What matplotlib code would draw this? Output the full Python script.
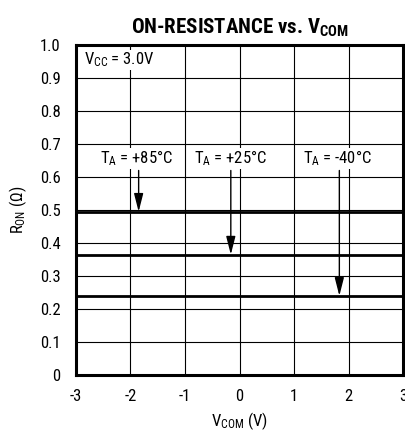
"""
ON-RESISTANCE vs. VCOM 圖表
"""
import matplotlib
matplotlib.use("Agg")
import matplotlib.pyplot as plt

plt.rcParams['font.family'] = ['Roboto Condensed', 'DejaVu Sans']
plt.rcParams['mathtext.fontset'] = 'custom'
plt.rcParams['mathtext.rm'] = 'Roboto Condensed'
plt.rcParams['mathtext.it'] = 'Roboto Condensed'
plt.rcParams['mathtext.bf'] = 'Roboto Condensed:bold'
plt.rcParams['axes.unicode_minus'] = False

# 資料
vcom = [-3, -2, -1, 0, 1, 2, 3]
ron_85 = [0.495, 0.495, 0.495, 0.495, 0.495, 0.495, 0.495]
ron_25 = [0.365, 0.365, 0.365, 0.365, 0.365, 0.365, 0.365]
ron_m40 = [0.240, 0.240, 0.240, 0.240, 0.240, 0.240, 0.240]

x_ticks = [-3, -2, -1, 0, 1, 2, 3]
y_ticks = [0, 0.1, 0.2, 0.3, 0.4, 0.5, 0.6, 0.7, 0.8, 0.9, 1.0]
y_tick_labels = ["0", "0.1", "0.2", "0.3", "0.4", "0.5", "0.6", "0.7", "0.8", "0.9", "1.0"]

# 標註: (文字, 文字 x, 箭頭 x, 箭頭終點 y)
labels = [
    (r"T$_\mathregular{A}$ = +85°C", -2.55, -1.85, 0.495),
    (r"T$_\mathregular{A}$ = +25°C", -0.84, -0.16, 0.365),
    (r"T$_\mathregular{A}$ = -40°C", 1.16, 1.83, 0.240),
]

fig = plt.figure(figsize=(4.06, 4.34), dpi=100)
ax = fig.add_axes([0.187, 0.136, 0.806, 0.760])

for series in (ron_85, ron_25, ron_m40):
    ax.plot(vcom, series, color="black", linewidth=2.0, zorder=3)

ax.set_xlim(-3, 3)
ax.set_ylim(0, 1.0)
ax.set_xticks(x_ticks)
ax.set_yticks(y_ticks)
ax.set_yticklabels(y_tick_labels)
ax.grid(True, color="black", linewidth=0.8)
ax.tick_params(axis="both", length=0, labelsize=12)
ax.tick_params(axis="x", pad=10)
ax.tick_params(axis="y", pad=11)
for sp in ax.spines.values():
    sp.set_linewidth(2.2)

ax.text(-2.85, 0.955, r"V$_\mathregular{CC}$ = 3.0V", fontsize=12,
        va="center", ha="left",
        bbox=dict(facecolor="white", edgecolor="none", pad=0.5))

for text, tx, ax_x, tip in labels:
    ax.text(tx, 0.657, text, fontsize=12, va="center", ha="left",
            bbox=dict(facecolor="white", edgecolor="none", pad=0.5), zorder=4)
    ax.annotate("", xy=(ax_x, tip), xytext=(ax_x, 0.62),
                arrowprops=dict(arrowstyle="-|>,head_length=1.1,head_width=0.28",
                                color="black", linewidth=1.0,
                                shrinkA=0, shrinkB=0), zorder=4)

ax.set_xlabel(r"V$_\mathregular{COM}$ (V)", fontsize=12, labelpad=5)
ax.set_ylabel(r"R$_\mathregular{ON}$ ($\Omega$)", fontsize=12, labelpad=8)
ax.set_title(r"ON-RESISTANCE vs. $\mathbf{V_{COM}}$", fontsize=15,
             fontweight="bold", pad=8)

fig.savefig("out.png", dpi=100)
